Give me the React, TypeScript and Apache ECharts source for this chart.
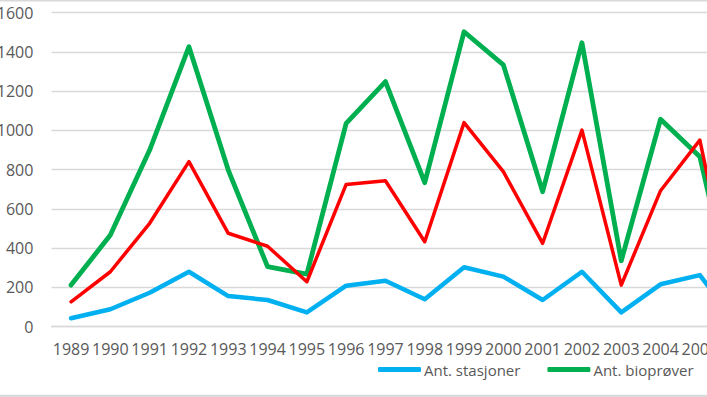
import React, { useEffect, useRef } from 'react';
import * as echarts from 'echarts';

const years = ['1989', '1990', '1991', '1992', '1993', '1994', '1995', '1996', '1997', '1998', '1999', '2000', '2001', '2002', '2003', '2004', '2005', '2006'];
const stasjoner = [43, 89, 173, 280, 156, 136, 73, 209, 234, 140, 303, 255, 136, 280, 73, 216, 263, 0];
const bioprover = [212, 467, 900, 1427, 798, 306, 268, 1036, 1249, 734, 1503, 1334, 688, 1447, 336, 1057, 866, 0];
const rodSerie = [127, 280, 527, 841, 476, 410, 229, 725, 744, 433, 1040, 790, 425, 1002, 212, 693, 951, 0];
const yTicks = { min: 0, max: 1600, interval: 200 };

const FONT = 'Open Sans';
const TEXT = '#595959';
const GRID = '#D9D9D9';

export default function App() {
  const ref = useRef<HTMLDivElement>(null);
  useEffect(() => {
    if (!ref.current) return;
    const chart = echarts.init(ref.current, undefined, { renderer: 'svg' });
    chart.setOption({
      animation: false,
      textStyle: { fontFamily: FONT },
      grid: {
        left: 51.4,
        right: -51.8,
        top: 12.7,
        bottom: 70.3,
        containLabel: false,
        outerBoundsMode: 'none',
      },
      legend: {
        data: ['Ant. stasjoner', 'Ant. bioprøver'],
        left: 378,
        top: 362,
        padding: 0,
        icon: 'roundRect',
        itemWidth: 43,
        itemHeight: 5,
        itemGap: 27,
        textStyle: { fontFamily: FONT, fontSize: 15, lineHeight: 14, color: TEXT, padding: [0, 0, 0, -2] },
      },
      xAxis: {
        type: 'category',
        data: years,
        boundaryGap: true,
        axisLine: { lineStyle: { color: GRID, width: 1.3 } },
        axisTick: { show: false },
        axisLabel: { interval: 0, fontFamily: FONT, fontSize: 16, lineHeight: 15, color: TEXT, margin: 15 },
      },
      yAxis: {
        type: 'value',
        min: yTicks.min,
        max: yTicks.max,
        interval: yTicks.interval,
        axisLine: { show: false },
        axisTick: { show: false },
        splitLine: { lineStyle: { color: GRID, width: 1.3 } },
        axisLabel: {
          fontFamily: FONT,
          fontSize: 16,
          color: TEXT,
          margin: 18,
          formatter: (v: number) => String(v),
        },
      },
      series: [
        {
          name: 'Ant. stasjoner',
          type: 'line',
          data: stasjoner,
          symbol: 'none',
          color: '#00B0F0',
          lineStyle: { width: 4.5, color: '#00B0F0', cap: 'round', join: 'round' },
        },
        {
          name: 'Ant. bioprøver',
          type: 'line',
          data: bioprover,
          symbol: 'none',
          color: '#00B050',
          lineStyle: { width: 4.8, color: '#00B050', cap: 'round', join: 'round' },
        },
        {
          name: 'Ant. prøver',
          type: 'line',
          data: rodSerie,
          symbol: 'none',
          color: '#FF0000',
          lineStyle: { width: 3.5, color: '#FF0000', cap: 'round', join: 'round' },
        },
      ],
      graphic: [
        { type: 'rect', left: 0, top: 0, shape: { x: 0, y: 0, width: 707, height: 1.6 }, style: { fill: GRID }, silent: true },
        { type: 'rect', shape: { x: 0, y: 394.8, width: 707, height: 2.2 }, style: { fill: GRID }, silent: true },
      ],
    });
    return () => chart.dispose();
  }, []);
  return (
    <div
      ref={ref}
      style={{ position: 'fixed', left: 0, top: 0, width: 707, height: 397, background: '#fff' }}
    />
  );
}
